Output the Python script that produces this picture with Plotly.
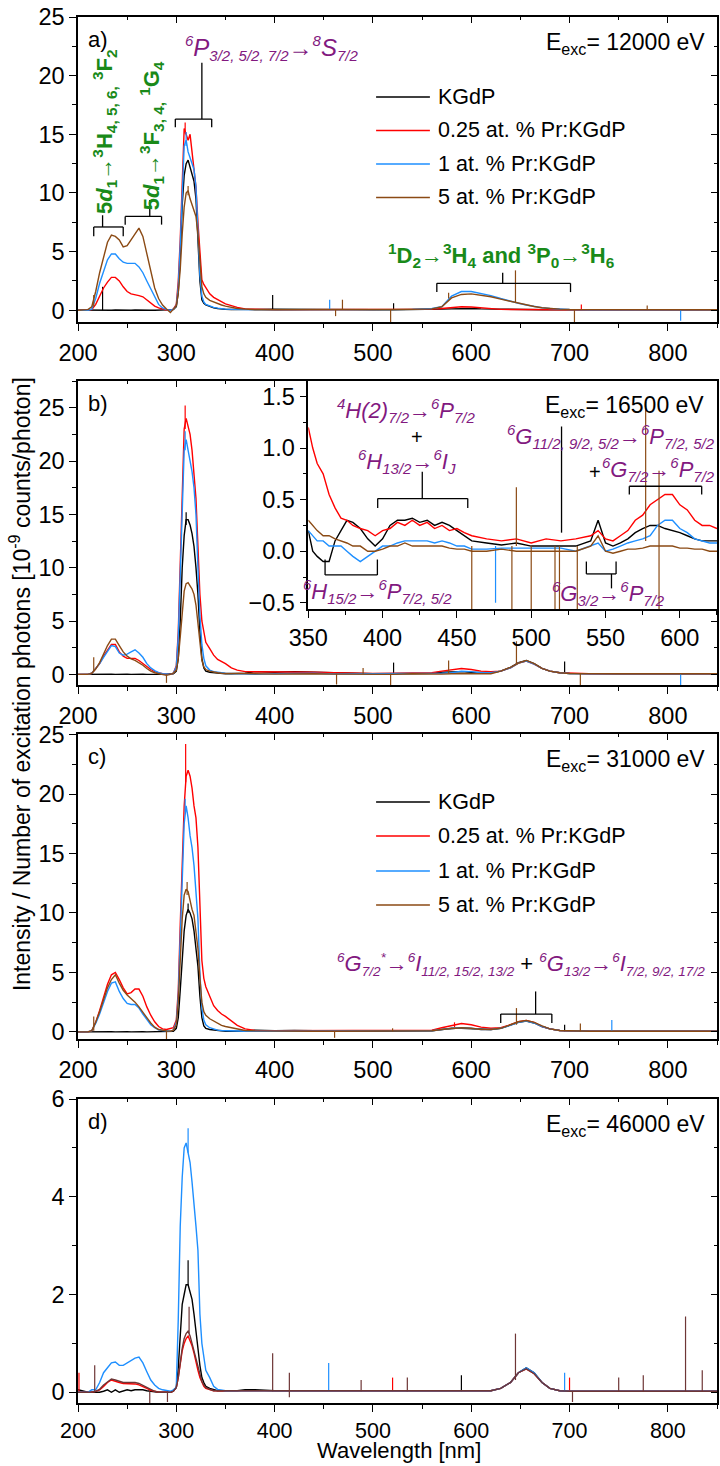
import plotly.graph_objects as go

FONT = "Arial, 'Liberation Sans', sans-serif"
INK = "#000000"
PURPLE = "#82197F"
GREEN = "#198A19"

SAMPLES = ["KGdP", "0.25 at. % Pr:KGdP", "1 at. % Pr:KGdP", "5 at. % Pr:KGdP"]
COLORS = ["#000000", "#FF0000", "#1E8FFF", "#8B4A14"]
COLORS_D = ["#000000", "#FF0000", "#1E8FFF", "#6E3636"]

# wavelength grid shared by the four spectra panels (nm)
WL = [200, 210, 214, 218, 222, 226, 230, 234, 238, 242,
      246, 250, 254, 258, 262, 266, 270, 274, 278, 282,
      286, 290, 294, 297, 300, 302, 304, 306, 308, 310,
      312, 314, 316, 318, 320, 322, 324, 326, 328, 330,
      334, 338, 342, 346, 350, 356, 362, 370, 380, 400,
      420, 440, 460, 480, 500, 520, 540, 560, 570, 580,
      590, 600, 610, 620, 630, 640, 648, 656, 664, 672,
      680, 690, 700, 720, 750, 780, 810, 850]

# a) E_exc = 12000 eV
A_KGDP = [0.02, 0.0, 0.0, 0.02, 0.0, 0.0, 0.02, 0.0, 0.02, 0.0,
          0.0, 0.02, 0.0, 0.02, 0.0, 0.0, 0.02, 0.0, 0.0, 0.0,
          0.0, 0.0, 0.02, 0.05, 0.3, 1.5, 4.5, 9.0, 11.5, 12.5,
          12.8, 12.2, 11.8, 11.0, 9.5, 6.0, 2.5, 0.9, 0.6, 0.45,
          0.3, 0.2, 0.15, 0.1, 0.08, 0.06, 0.05, 0.05, 0.08, 0.1,
          0.08, 0.05, 0.05, 0.05, 0.05, 0.05, 0.05, 0.08, 0.1, 0.12,
          0.15, 0.15, 0.12, 0.1, 0.08, 0.06, 0.05, 0.05, 0.05, 0.05,
          0.05, 0.05, 0.05, 0.05, 0.05, 0.05, 0.05, 0.05]
A_PR025 = [0.0, 0.0, 0.05, 0.5, 1.2, 1.9, 2.4, 2.8, 2.8, 2.5,
           2.0, 1.6, 1.4, 1.35, 1.25, 1.15, 0.9, 0.6, 0.35, 0.2,
           0.1, 0.02, 0.0, 0.1, 0.5, 2.5, 6.0, 11.0, 15.5, 15.0,
           14.5, 15.0, 13.5, 12.5, 10.5, 7.5, 4.5, 2.6, 2.2, 1.9,
           1.4, 1.1, 0.9, 0.7, 0.55, 0.4, 0.25, 0.12, 0.08, 0.05,
           0.05, 0.05, 0.05, 0.05, 0.05, 0.05, 0.05, 0.1, 0.15, 0.25,
           0.3, 0.28, 0.2, 0.12, 0.08, 0.06, 0.05, 0.05, 0.05, 0.05,
           0.04, 0.04, 0.04, 0.04, 0.04, 0.04, 0.04, 0.04]
A_PR1 = [0.0, 0.0, 0.1, 1.0, 2.3, 3.4, 4.3, 4.8, 4.8, 4.4,
         4.1, 4.0, 4.0, 4.0, 3.7, 3.2, 2.5, 1.8, 1.1, 0.5,
         0.2, 0.05, 0.0, 0.1, 0.4, 2.0, 5.5, 10.5, 14.0, 14.5,
         13.5, 13.0, 12.5, 12.0, 10.5, 6.5, 3.0, 1.2, 0.7, 0.5,
         0.35, 0.25, 0.18, 0.12, 0.1, 0.08, 0.06, 0.05, 0.05, 0.05,
         0.05, 0.05, 0.05, 0.05, 0.05, 0.05, 0.08, 0.15, 0.3, 1.2,
         1.6, 1.6, 1.45, 1.25, 1.0, 0.75, 0.6, 0.45, 0.32, 0.22,
         0.15, 0.1, 0.06, 0.05, 0.05, 0.05, 0.05, 0.05]
A_PR5 = [0.0, 0.05, 0.3, 1.6, 3.2, 4.6, 5.8, 6.4, 6.3, 6.0,
         5.4, 5.5, 6.0, 6.6, 7.0, 6.3, 4.8, 3.2, 1.9, 1.0,
         0.45, 0.1, -0.2, 0.1, 0.4, 1.5, 3.5, 6.5, 8.8, 10.0,
         10.2, 9.5, 9.0, 8.7, 8.0, 6.5, 4.0, 2.0, 1.4, 1.1,
         0.85, 0.7, 0.55, 0.45, 0.35, 0.25, 0.15, 0.1, 0.05, 0.05,
         0.05, 0.05, 0.05, 0.05, 0.05, 0.05, 0.08, 0.12, 0.3, 1.05,
         1.35, 1.4, 1.3, 1.15, 0.95, 0.75, 0.6, 0.45, 0.32, 0.22,
         0.15, 0.1, 0.06, 0.05, 0.05, 0.05, 0.05, 0.05]
# narrow spikes: (sample index, wavelength, low, high)
A_SPIKES = [(0, 225, 0.0, 2.0), (3, 216, 0.3, 1.3), (1, 309, 15.0, 16.0),
            (2, 310, 14.0, 15.2), (3, 312, 9.8, 10.6), (0, 398, 0.05, 1.3),
            (2, 456, 0.05, 0.9), (3, 469, 0.05, 0.9), (3, 462, -0.5, 0.05),
            (0, 521, 0.05, 0.6), (3, 518, -1.0, 0.05), (3, 577, 1.0, 1.5),
            (3, 645, 0.7, 3.4), (3, 705, -1.1, 0.05), (1, 712, 0.05, 0.5),
            (3, 779, 0.05, 0.4), (2, 813, -0.9, 0.05)]

# b) E_exc = 16500 eV
B_KGDP = [0.0, 0.02, 0.0, 0.02, 0.0, 0.02, 0.0, 0.02, 0.0, 0.02,
          0.0, 0.02, 0.0, 0.02, 0.0, 0.02, 0.0, 0.02, 0.0, 0.0,
          0.0, 0.0, 0.0, 0.05, 0.3, 1.5, 5.0, 10.0, 13.0, 14.5,
          14.5, 14.0, 13.2, 12.0, 10.0, 7.5, 4.0, 1.5, 0.6, 0.3,
          0.2, 0.15, 0.1, 0.08, 0.05, 0.05, 0.05, 0.1, 0.25, 0.2,
          0.25, 0.2, 0.1, 0.05, 0.05, 0.05, 0.1, 0.1, 0.2, 0.25,
          0.25, 0.2, 0.15, 0.15, 0.3, 0.65, 1.1, 1.3, 1.0, 0.55,
          0.3, 0.15, 0.08, 0.05, 0.05, 0.05, 0.05, 0.05]
B_PR025 = [0.0, 0.0, 0.1, 0.5, 1.0, 1.7, 2.3, 2.8, 2.8, 2.1,
           1.7, 1.5, 1.5, 1.5, 1.3, 1.0, 0.7, 0.45, 0.25, 0.12,
           0.05, 0.0, 0.0, 0.1, 0.8, 4.0, 11.0, 17.0, 23.0, 24.0,
           23.2, 22.5, 21.0, 19.0, 16.5, 12.0, 7.5, 5.0, 4.0, 3.0,
           2.4, 1.8, 1.4, 1.2, 1.0, 0.6, 0.4, 0.25, 0.25, 0.2,
           0.25, 0.2, 0.15, 0.1, 0.08, 0.1, 0.12, 0.15, 0.3, 0.45,
           0.55, 0.45, 0.3, 0.25, 0.3, 0.6, 1.05, 1.25, 0.95, 0.55,
           0.3, 0.15, 0.1, 0.05, 0.05, 0.05, 0.05, 0.05]
B_PR1 = [0.0, 0.0, 0.1, 0.5, 1.0, 1.6, 2.2, 2.7, 2.6, 2.0,
         1.8, 1.9, 2.1, 2.3, 2.0, 1.6, 1.0, 0.6, 0.35, 0.15,
         0.05, 0.0, 0.0, 0.1, 0.7, 3.5, 9.5, 16.0, 21.0, 22.0,
         21.0, 20.0, 19.0, 17.5, 15.0, 10.0, 5.5, 2.8, 1.5, 0.8,
         0.4, 0.25, 0.18, 0.12, 0.1, 0.08, 0.06, 0.05, 0.0, 0.05,
         0.1, 0.1, 0.03, 0.03, 0.03, 0.03, 0.05, 0.05, 0.1, 0.15,
         0.3, 0.25, 0.15, 0.15, 0.3, 0.6, 1.05, 1.25, 0.95, 0.55,
         0.3, 0.15, 0.08, 0.05, 0.05, 0.05, 0.05, 0.05]
B_PR5 = [0.0, 0.0, 0.1, 0.5, 1.1, 1.9, 2.7, 3.3, 3.3, 2.7,
         2.1, 1.7, 1.45, 1.3, 1.1, 0.85, 0.55, 0.3, 0.15, 0.08,
         0.02, -0.1, 0.0, 0.1, 0.4, 1.5, 3.5, 6.0, 7.8, 8.5,
         8.6, 8.3, 8.0, 7.5, 6.5, 4.8, 2.8, 1.3, 0.7, 0.45,
         0.3, 0.2, 0.15, 0.1, 0.1, 0.08, 0.06, 0.05, 0.05, 0.02,
         0.05, 0.05, 0.02, 0.0, 0.0, 0.0, 0.05, 0.0, 0.02, 0.05,
         0.05, 0.03, 0.02, 0.05, 0.3, 0.65, 1.05, 1.3, 1.0, 0.55,
         0.3, 0.15, 0.08, 0.05, 0.05, 0.05, 0.05, 0.05]
B_SPIKES = [(3, 216, 0.3, 1.6), (3, 290, -0.8, 0.0), (1, 309, 23.0, 25.2),
            (2, 309, 21.0, 22.8), (0, 310, 14.0, 15.2), (3, 463, -0.95, 0.05),
            (0, 521, 0.05, 1.1), (3, 518, -1.1, 0.05), (3, 490, 0.05, 0.6),
            (3, 577, 0.1, 1.3), (3, 646, 1.0, 3.1), (0, 695, 0.05, 1.2),
            (3, 711, -1.1, 0.05), (2, 813, -1.0, 0.05)]

# b) inset, 350-625 nm
INSET_WL = [350, 353, 356, 360, 364, 368, 372, 376, 380, 385,
            390, 395, 400, 405, 410, 415, 420, 425, 430, 435,
            440, 445, 450, 455, 460, 470, 480, 490, 500, 510,
            520, 530, 540, 545, 550, 555, 560, 565, 570, 575,
            580, 585, 590, 595, 600, 605, 610, 615, 620, 625]
I_KGDP = [0.2, 0.0, -0.05, -0.1, -0.1, 0.1, 0.2, 0.3, 0.28, 0.22,
          0.12, 0.05, 0.12, 0.25, 0.3, 0.3, 0.32, 0.28, 0.3, 0.25,
          0.28, 0.25, 0.2, 0.15, 0.1, 0.08, 0.06, 0.08, 0.05, 0.05,
          0.05, 0.05, 0.1, 0.3, 0.08, 0.05, 0.08, 0.12, 0.18, 0.22,
          0.25, 0.25, 0.22, 0.2, 0.18, 0.15, 0.12, 0.1, 0.1, 0.1]
I_PR025 = [1.2, 1.0, 0.85, 0.75, 0.55, 0.42, 0.32, 0.3, 0.25, 0.22,
           0.2, 0.15, 0.2, 0.22, 0.28, 0.25, 0.3, 0.25, 0.28, 0.22,
           0.25, 0.2, 0.22, 0.18, 0.15, 0.12, 0.1, 0.12, 0.08, 0.12,
           0.1, 0.12, 0.15, 0.2, 0.12, 0.1, 0.15, 0.2, 0.3, 0.35,
           0.45, 0.5, 0.55, 0.55, 0.45, 0.4, 0.3, 0.25, 0.25, 0.22]
I_PR1 = [0.2, 0.15, 0.1, 0.1, 0.05, 0.05, 0.05, 0.0, -0.05, -0.1,
         -0.05, 0.0, 0.05, 0.05, 0.08, 0.1, 0.1, 0.1, 0.1, 0.08,
         0.1, 0.08, 0.05, 0.05, 0.02, 0.02, 0.03, 0.03, 0.03, 0.03,
         0.03, 0.0, 0.05, 0.08, 0.0, 0.02, 0.05, 0.08, 0.1, 0.12,
         0.15, 0.25, 0.3, 0.3, 0.22, 0.18, 0.12, 0.1, 0.08, 0.08]
I_PR5 = [0.3, 0.25, 0.2, 0.15, 0.15, 0.12, 0.1, 0.08, 0.05, 0.05,
         0.0, 0.0, 0.02, 0.05, 0.05, 0.08, 0.05, 0.05, 0.05, 0.05,
         0.05, 0.03, 0.02, 0.02, 0.0, 0.0, 0.02, 0.0, 0.0, 0.0,
         0.0, 0.0, 0.05, 0.15, 0.0, -0.02, 0.0, 0.02, 0.02, 0.03,
         0.05, 0.05, 0.05, 0.05, 0.03, 0.03, 0.02, 0.02, 0.0, 0.0]
I_SPIKES = [(3, 460, -0.6, 0.05), (2, 476, -0.5, 0.05), (3, 487, -0.6, 0.05),
            (3, 490, 0.05, 0.62), (3, 500, -0.6, 0.05), (3, 516, -0.6, 0.05),
            (3, 519, -0.6, 0.05), (3, 531, -0.6, 0.05), (3, 577, 0.1, 1.45),
            (3, 586, -0.6, 0.78)]

# c) E_exc = 31000 eV
C_KGDP = [0.0, 0.02, 0.0, 0.02, 0.0, 0.02, 0.0, 0.02, 0.0, 0.02,
          0.0, 0.02, 0.0, 0.02, 0.0, 0.02, 0.0, 0.0, 0.0, 0.0,
          0.0, 0.0, 0.0, 0.05, 0.3, 1.2, 3.5, 6.5, 8.5, 9.8,
          10.3, 10.0, 9.5, 8.5, 7.0, 5.5, 3.0, 1.2, 0.5, 0.3,
          0.2, 0.15, 0.1, 0.08, 0.05, 0.05, 0.05, 0.05, 0.15, 0.1,
          0.12, 0.08, 0.05, 0.05, 0.05, 0.05, 0.05, 0.1, 0.2, 0.3,
          0.3, 0.28, 0.2, 0.2, 0.3, 0.55, 0.8, 0.9, 0.75, 0.45,
          0.25, 0.12, 0.08, 0.05, 0.05, 0.05, 0.05, 0.05]
C_PR025 = [0.0, 0.0, 0.1, 0.8, 1.8, 3.0, 4.0, 4.8, 5.0, 4.4,
           3.7, 3.2, 3.3, 3.6, 3.6, 3.0, 2.1, 1.4, 0.85, 0.45,
           0.25, 0.2, 0.25, 0.35, 1.0, 3.5, 9.0, 14.0, 19.0, 21.5,
           22.0, 21.5, 20.5, 19.0, 18.0, 15.5, 11.0, 6.0, 4.5, 3.8,
           3.0, 2.2, 1.8, 1.5, 1.3, 0.9, 0.55, 0.25, 0.12, 0.1,
           0.1, 0.1, 0.1, 0.1, 0.1, 0.1, 0.1, 0.15, 0.35, 0.55,
           0.7, 0.6, 0.4, 0.3, 0.35, 0.6, 0.85, 0.95, 0.8, 0.45,
           0.25, 0.12, 0.08, 0.05, 0.05, 0.05, 0.05, 0.05]
C_PR1 = [0.0, 0.0, 0.1, 0.7, 1.5, 2.5, 3.4, 4.1, 4.2, 3.4,
         2.8, 2.4, 2.3, 2.3, 2.0, 1.5, 1.0, 0.6, 0.35, 0.18,
         0.1, 0.05, 0.05, 0.15, 0.8, 3.0, 8.0, 13.5, 17.5, 19.0,
         18.0, 16.5, 15.5, 14.0, 12.0, 9.5, 5.0, 2.0, 1.0, 0.6,
         0.35, 0.22, 0.15, 0.12, 0.1, 0.08, 0.06, 0.05, 0.05, 0.05,
         0.05, 0.05, 0.05, 0.05, 0.05, 0.05, 0.05, 0.1, 0.2, 0.3,
         0.35, 0.3, 0.2, 0.2, 0.3, 0.55, 0.8, 0.9, 0.75, 0.45,
         0.25, 0.12, 0.08, 0.05, 0.05, 0.05, 0.05, 0.05]
C_PR5 = [0.0, 0.0, 0.1, 0.8, 1.7, 2.8, 3.7, 4.4, 4.8, 4.1,
         3.5, 3.1, 2.8, 2.5, 2.1, 1.7, 1.2, 0.75, 0.4, 0.2,
         0.12, 0.08, 0.05, 0.15, 0.6, 2.5, 6.0, 9.5, 11.5, 12.0,
         11.8, 11.0, 10.3, 9.8, 8.5, 7.0, 4.5, 2.5, 1.7, 1.4,
         1.1, 0.9, 0.7, 0.55, 0.45, 0.35, 0.2, 0.12, 0.08, 0.05,
         0.05, 0.05, 0.05, 0.05, 0.05, 0.05, 0.05, 0.1, 0.2, 0.3,
         0.35, 0.3, 0.2, 0.2, 0.3, 0.6, 0.85, 0.95, 0.8, 0.5,
         0.25, 0.12, 0.08, 0.05, 0.05, 0.05, 0.05, 0.05]
C_SPIKES = [(3, 216, 0.1, 1.3), (3, 290, -0.6, 0.1), (1, 309.5, 21.0, 24.2),
            (2, 309, 18.5, 19.6), (3, 311, 11.5, 12.6), (0, 312, 10.0, 10.8),
            (3, 461, -0.5, 0.05), (3, 520, 0.05, 0.3), (1, 583, 0.4, 0.8),
            (3, 646, 0.6, 2.0), (0, 695, 0.05, 0.6), (3, 711, 0.05, 0.7),
            (2, 743, 0.05, 1.0)]

# d) E_exc = 46000 eV
D_KGDP = [0.05, 0.0, 0.0, 0.0, 0.0, 0.02, 0.05, 0.0, 0.05, 0.0,
          0.02, 0.05, 0.03, 0.05, 0.05, 0.05, 0.03, 0.02, 0.0, 0.0,
          0.0, 0.0, 0.0, 0.02, 0.1, 0.5, 1.3, 1.8, 2.0, 2.2,
          2.2, 2.05, 1.9, 1.6, 1.3, 0.9, 0.55, 0.3, 0.2, 0.12,
          0.08, 0.05, 0.03, 0.03, 0.03, 0.03, 0.03, 0.05, 0.05, 0.03,
          0.03, 0.03, 0.03, 0.03, 0.03, 0.03, 0.03, 0.03, 0.03, 0.03,
          0.03, 0.03, 0.03, 0.03, 0.08, 0.2, 0.4, 0.5, 0.4, 0.2,
          0.08, 0.03, 0.02, 0.02, 0.02, 0.02, 0.02, 0.02]
D_PR025 = [0.0, 0.0, 0.0, 0.02, 0.05, 0.12, 0.2, 0.25, 0.22, 0.2,
           0.18, 0.18, 0.17, 0.17, 0.15, 0.12, 0.08, 0.04, 0.02, 0.0,
           0.0, 0.0, 0.0, 0.02, 0.1, 0.3, 0.6, 0.85, 1.0, 1.1,
           1.15, 1.05, 0.95, 0.8, 0.6, 0.45, 0.3, 0.2, 0.12, 0.08,
           0.05, 0.03, 0.03, 0.03, 0.03, 0.03, 0.03, 0.03, 0.03, 0.03,
           0.03, 0.03, 0.03, 0.03, 0.03, 0.03, 0.03, 0.03, 0.03, 0.03,
           0.03, 0.03, 0.03, 0.03, 0.08, 0.2, 0.4, 0.48, 0.38, 0.2,
           0.08, 0.03, 0.02, 0.02, 0.02, 0.02, 0.02, 0.02]
D_PR1 = [0.0, 0.0, 0.05, 0.05, 0.2, 0.4, 0.5, 0.6, 0.62, 0.55,
         0.55, 0.6, 0.65, 0.7, 0.72, 0.6, 0.42, 0.25, 0.15, 0.08,
         0.05, 0.03, 0.02, 0.05, 0.1, 1.5, 3.4, 4.4, 5.0, 5.1,
         4.9, 4.7, 4.3, 3.9, 3.4, 2.9, 1.6, 1.0, 0.7, 0.45,
         0.3, 0.12, 0.06, 0.04, 0.03, 0.03, 0.03, 0.03, 0.03, 0.03,
         0.03, 0.03, 0.03, 0.03, 0.03, 0.03, 0.03, 0.03, 0.03, 0.03,
         0.03, 0.03, 0.03, 0.03, 0.08, 0.2, 0.4, 0.5, 0.4, 0.2,
         0.08, 0.03, 0.02, 0.02, 0.02, 0.02, 0.02, 0.02]
D_PR5 = [0.0, 0.0, 0.0, 0.02, 0.06, 0.15, 0.22, 0.27, 0.25, 0.22,
         0.2, 0.2, 0.2, 0.2, 0.18, 0.14, 0.1, 0.05, 0.02, 0.0,
         0.0, 0.0, 0.0, 0.02, 0.1, 0.3, 0.65, 0.9, 1.1, 1.2,
         1.25, 1.15, 1.0, 0.85, 0.65, 0.5, 0.35, 0.22, 0.15, 0.1,
         0.06, 0.03, 0.03, 0.03, 0.03, 0.03, 0.03, 0.03, 0.03, 0.03,
         0.03, 0.03, 0.03, 0.03, 0.03, 0.03, 0.03, 0.03, 0.03, 0.03,
         0.03, 0.03, 0.03, 0.03, 0.08, 0.2, 0.4, 0.48, 0.38, 0.2,
         0.08, 0.03, 0.02, 0.02, 0.02, 0.02, 0.02, 0.02]
D_SPIKES = [(1, 201, 0.0, 0.4), (3, 217, 0.0, 0.55), (3, 273, -0.25, 0.02),
            (3, 291, -0.2, 0.02), (2, 312, 4.9, 5.4), (0, 312, 2.2, 2.7),
            (3, 313, 1.2, 1.75), (3, 398, 0.02, 0.8), (3, 415, -0.1, 0.4),
            (2, 455, 0.02, 0.6), (3, 488, 0.02, 0.25), (1, 520, 0.02, 0.3),
            (3, 535, 0.02, 0.3), (0, 590, 0.02, 0.35), (3, 645, 0.25, 1.2),
            (2, 695, 0.02, 0.4), (1, 700, 0.02, 0.3), (3, 703, -0.2, 0.02),
            (3, 750, 0.02, 0.3), (3, 775, 0.02, 0.35), (3, 818, 0.02, 1.55),
            (3, 835, 0.02, 0.45)]

# ---------------------------------------------------------------- layout
W, H = 720, 1466
MT, MB, ML, MR = 17, 63, 78, 1
PH = H - MT - MB


def ydom(top_px, bottom_px):
    return [(H - MB - bottom_px) / PH, (H - MB - top_px) / PH]


def xdom(left_px, right_px):
    pw = W - ML - MR
    return [(left_px - ML) / pw, (right_px - ML) / pw]


PANELS = [
    dict(n="", series=[A_KGDP, A_PR025, A_PR1, A_PR5], spikes=A_SPIKES,
         colors=COLORS, yrange=[-1, 25], dy=5, mdy=2.5, dom=ydom(17, 322),
         tag="a)", energy="12000", ovl=6, standoff=2, xfont=23.5),
    dict(n="2", series=[B_KGDP, B_PR025, B_PR1, B_PR5], spikes=B_SPIKES,
         colors=COLORS, yrange=[-1, 27.5], dy=5, mdy=2.5, dom=ydom(381, 685),
         tag="b)", energy=None, ovl=7, standoff=2, xfont=23.5),
    dict(n="3", series=[C_KGDP, C_PR025, C_PR1, C_PR5], spikes=C_SPIKES,
         colors=COLORS, yrange=[-0.6, 25.05], dy=5, mdy=2.5, dom=ydom(734, 1039),
         tag="c)", energy="31000", ovl=8, standoff=2, xfont=23.5),
    dict(n="4", series=[D_KGDP, D_PR025, D_PR1, D_PR5], spikes=D_SPIKES,
         colors=COLORS_D, yrange=[-0.22, 6], dy=2, mdy=1, dom=ydom(1099, 1403),
         tag="d)", energy="46000", ovl=9, standoff=0, xfont=21.5),
]

TICKFONT = dict(family=FONT, size=23.5, color=INK)


def axis(rng, dtick, mdtick, domain, anchor, fmt=None):
    d = dict(range=rng, domain=domain, anchor=anchor, dtick=dtick, tick0=0,
             ticks="outside", ticklen=7, tickwidth=1.3, tickcolor=INK,
             minor=dict(dtick=mdtick, tick0=0, ticks="outside", ticklen=4,
                        tickwidth=1.1, tickcolor=INK),
             showline=True, linecolor=INK, linewidth=1.5, mirror=True,
             showgrid=False, zeroline=False, tickfont=dict(TICKFONT))
    if fmt:
        d["tickformat"] = fmt
    return d


def inner_axis(rng, dtick, mdtick, over, anchor, side):
    return dict(range=rng, overlaying=over, anchor=anchor, side=side,
                dtick=dtick, tick0=0, ticks="inside", ticklen=6, tickwidth=1.2,
                tickcolor=INK,
                minor=dict(dtick=mdtick, tick0=0, ticks="inside", ticklen=3,
                           tickwidth=1.0, tickcolor=INK),
                showticklabels=False, showline=False, showgrid=False,
                zeroline=False)


def spike_xy(spikes, idx):
    xs, ys = [], []
    for s, lam, lo, hi in spikes:
        if s == idx:
            xs += [lam, lam, None]
            ys += [lo, hi, None]
    return xs, ys


fig = go.Figure()
layout = {}
XR = [200, 850]

for p in PANELS:
    xa, ya = "x" + p["n"], "y" + p["n"]
    for i, (vals, col, name) in enumerate(zip(p["series"], p["colors"], SAMPLES)):
        assert len(vals) == len(WL)
        fig.add_trace(go.Scatter(x=WL, y=vals, mode="lines", name=name,
                                 line=dict(color=col, width=1.4),
                                 xaxis=xa, yaxis=ya, showlegend=False))
        sx, sy = spike_xy(p["spikes"], i)
        if sx:
            fig.add_trace(go.Scatter(x=sx, y=sy, mode="lines", name=name,
                                     line=dict(color=col, width=1.2),
                                     xaxis=xa, yaxis=ya, showlegend=False))
    xcfg = axis(XR, 100, 50, [0, 1], ya)
    xcfg["ticklabelstandoff"] = p["standoff"]
    xcfg["tickfont"]["size"] = p["xfont"]
    layout["xaxis" + p["n"]] = xcfg
    layout["yaxis" + p["n"]] = axis(p["yrange"], p["dy"], p["mdy"], p["dom"], xa)
    # inward ticks on the top and right frame edges
    o = str(p["ovl"])
    layout["xaxis" + o] = inner_axis(XR, 100, 50, xa, ya, "top")
    layout["yaxis" + o] = inner_axis(p["yrange"], p["dy"], p["mdy"], ya, xa, "right")
    fig.add_trace(go.Scatter(x=[], y=[], xaxis="x" + o, yaxis="y" + o,
                             showlegend=False, hoverinfo="skip"))

# inset of panel b
for i, (vals, col, name) in enumerate(zip([I_KGDP, I_PR025, I_PR1, I_PR5], COLORS, SAMPLES)):
    assert len(vals) == len(INSET_WL)
    fig.add_trace(go.Scatter(x=INSET_WL, y=vals, mode="lines", name=name,
                             line=dict(color=col, width=1.4),
                             xaxis="x5", yaxis="y5", showlegend=False))
    sx, sy = spike_xy(I_SPIKES, i)
    if sx:
        fig.add_trace(go.Scatter(x=sx, y=sy, mode="lines", name=name,
                                 line=dict(color=col, width=1.2),
                                 xaxis="x5", yaxis="y5", showlegend=False))
layout["xaxis5"] = axis([350, 625], 50, 25, xdom(309, 719), "y5")
layout["yaxis5"] = axis([-0.56, 1.65], 0.5, 0.25, ydom(381, 609), "x5", fmt=".1f")

# ---------------------------------------------------------------- texts
ann = []
shapes = []


def sub(t, size):
    return "<sub><span style='font-size:%gpx'>%s</span></sub>" % (size, t)


def sup(t, size):
    return "<sup><span style='font-size:%gpx'>%s</span></sup>" % (size, t)


def term(mult, letter, j, size):
    """Spectroscopic term such as 6P_{7/2}, with small indices."""
    return sup(mult, size) + letter + (sub(j, size) if j else "")


def note(text, x, y, xref, yref, size=22, color=INK, angle=0,
         xanchor="center", yanchor="middle"):
    ann.append(dict(text=text, x=x, y=y, xref=xref, yref=yref, showarrow=False,
                    textangle=angle, xanchor=xanchor, yanchor=yanchor,
                    font=dict(family=FONT, size=size, color=color)))


def seg(x0, y0, x1, y1, xref, yref, width=1.3, color=INK):
    shapes.append(dict(type="line", x0=x0, y0=y0, x1=x1, y1=y1, xref=xref,
                       yref=yref, line=dict(color=color, width=width)))


def bracket(x0, x1, y, yend, xref, yref, stem=None):
    seg(x0, yend, x0, y, xref, yref)
    seg(x0, y, x1, y, xref, yref)
    seg(x1, y, x1, yend, xref, yref)
    if stem:
        seg(stem[0], y, stem[0], stem[1], xref, yref)


for p in PANELS:
    xd, yd = "x" + p["n"] + " domain", "y" + p["n"] + " domain"
    note(p["tag"], 0.012, 0.975, xd, yd, xanchor="left", yanchor="top")
    if p["energy"]:
        note("E<sub>exc</sub>= " + p["energy"] + " eV", 0.984, 0.968, xd, yd,
             size=23, xanchor="right", yanchor="top")
note("E<sub>exc</sub>= 16500 eV", 0.972, 0.962, "x5 domain", "y5 domain",
     size=23, xanchor="right", yanchor="top")

# legends of panels a) and c)
for n, rows in (("", [0.7377, 0.6279, 0.5180, 0.4082]),
                ("3", [0.7770, 0.6656, 0.5508, 0.4393])):
    xd, yd = "x" + n + " domain", "y" + n + " domain"
    for yy, col, name in zip(rows, COLORS, SAMPLES):
        seg(0.4665, yy, 0.5507, yy, xd, yd, width=1.4, color=col)
        note(name, 0.560, yy, xd, yd, size=21.5, xanchor="left")

ARROW = "→"

# panel a) assignments
note("<b>5<i>d</i><sub>1</sub>" + ARROW + "<sup>3</sup>H<sub>4, 5, 6,</sub> <sup>3</sup>F<sub>2</sub></b>",
     227.4, 15.2, "x", "y", size=22, color=GREEN, angle=-90)
note("<b>5<i>d</i><sub>1</sub>" + ARROW + "<sup>3</sup>F<sub>3, 4,</sub> <sup>1</sup>G<sub>4</sub></b>",
     275, 14.9, "x", "y", size=22, color=GREEN, angle=-90)
bracket(216, 246, 7.1, 6.3, "x", "y", stem=(225, 8.1))
bracket(248, 285, 8.0, 7.3, "x", "y", stem=(273, 9.4))
note("<i>" + term("6", "P", "3/2, 5/2, 7/2", 15) + ARROW + term("8", "S", "7/2", 15) + "</i>",
     396.8, 22.4, "x", "y", size=24, color=PURPLE)
bracket(299, 336, 16.3, 15.6, "x", "y", stem=(326, 21.1))
note("<b><sup>1</sup>D<sub>2</sub>" + ARROW + "<sup>3</sup>H<sub>4</sub> and <sup>3</sup>P<sub>0</sub>"
     + ARROW + "<sup>3</sup>H<sub>6</sub></b>",
     630, 4.7, "x", "y", size=22, color=GREEN)
bracket(565, 701, 2.3, 1.55, "x", "y", stem=(632, 3.2))

# inset assignments
S = 15
note("<i>" + term("4", "H(2)", "7/2", S) + ARROW + term("6", "P", "7/2", S) + "</i>",
     416, 1.36, "x5", "y5", size=22, color=PURPLE)
note("+", 423.3, 1.11, "x5", "y5", size=20)
note("<i>" + term("6", "H", "13/2", S) + ARROW + term("6", "I", "J", S) + "</i>",
     416.7, 0.87, "x5", "y5", size=22, color=PURPLE)
bracket(396.7, 457.3, 0.51, 0.42, "x5", "y5", stem=(426.7, 0.77))
note("<i>" + term("6", "H", "15/2", S) + ARROW + term("6", "P", "7/2, 5/2", S) + "</i>",
     396.7, -0.39, "x5", "y5", size=22, color=PURPLE)
bracket(361.3, 396.5, -0.23, -0.08, "x5", "y5")
note("<i>" + term("6", "G", "11/2, 9/2, 5/2", S) + ARROW + term("6", "P", "7/2, 5/2", S) + "</i>",
     553.5, 1.11, "x5", "y5", size=22, color=PURPLE)
seg(520.4, 0.18, 520.4, 1.21, "x5", "y5")
note("+", 542.7, 0.77, "x5", "y5", size=20)
note("<i>" + term("6", "G", "7/2", S) + ARROW + term("6", "P", "7/2", S) + "</i>",
     585.5, 0.79, "x5", "y5", size=22, color=PURPLE)
bracket(566, 614.7, 0.63, 0.55, "x5", "y5")
note("<i>" + term("6", "G", "3/2", S) + ARROW + term("6", "P", "7/2", S) + "</i>",
     552, -0.41, "x5", "y5", size=22, color=PURPLE)
bracket(537.1, 557.1, -0.22, -0.1, "x5", "y5", stem=(554, -0.36))

# panel c) assignment
SC = 13.5
note("<i>" + sup("6", SC) + "G" + sub("7/2", SC) + sup("*", SC) + ARROW
     + term("6", "I", "11/2, 15/2, 13/2", SC) + "</i>"
     " <span style='color:#000000'>+</span> "
     "<i>" + term("6", "G", "13/2", SC) + ARROW + term("6", "I", "7/2, 9/2, 17/2", SC) + "</i>",
     650.3, 5.64, "x3", "y3", size=22, color=PURPLE)
bracket(630, 682, 1.5, 0.75, "x3", "y3", stem=(665.5, 3.4))

# shared axis titles
note("Intensity / Number of excitation photons [10<sup>-9</sup> counts/photon]",
     -0.0905, 0.5188, "paper", "paper", size=23, angle=-90)
note("Wavelength [nm]", 0.502, -0.0447, "paper", "paper", size=22, yanchor="bottom")

fig.update_layout(
    width=W, height=H,
    margin=dict(l=ML, r=MR, t=MT, b=MB, pad=0),
    paper_bgcolor="white", plot_bgcolor="white",
    font=dict(family=FONT, size=20, color=INK),
    showlegend=False,
    annotations=ann, shapes=shapes,
    **layout,
)

fig.write_html("out.html")
